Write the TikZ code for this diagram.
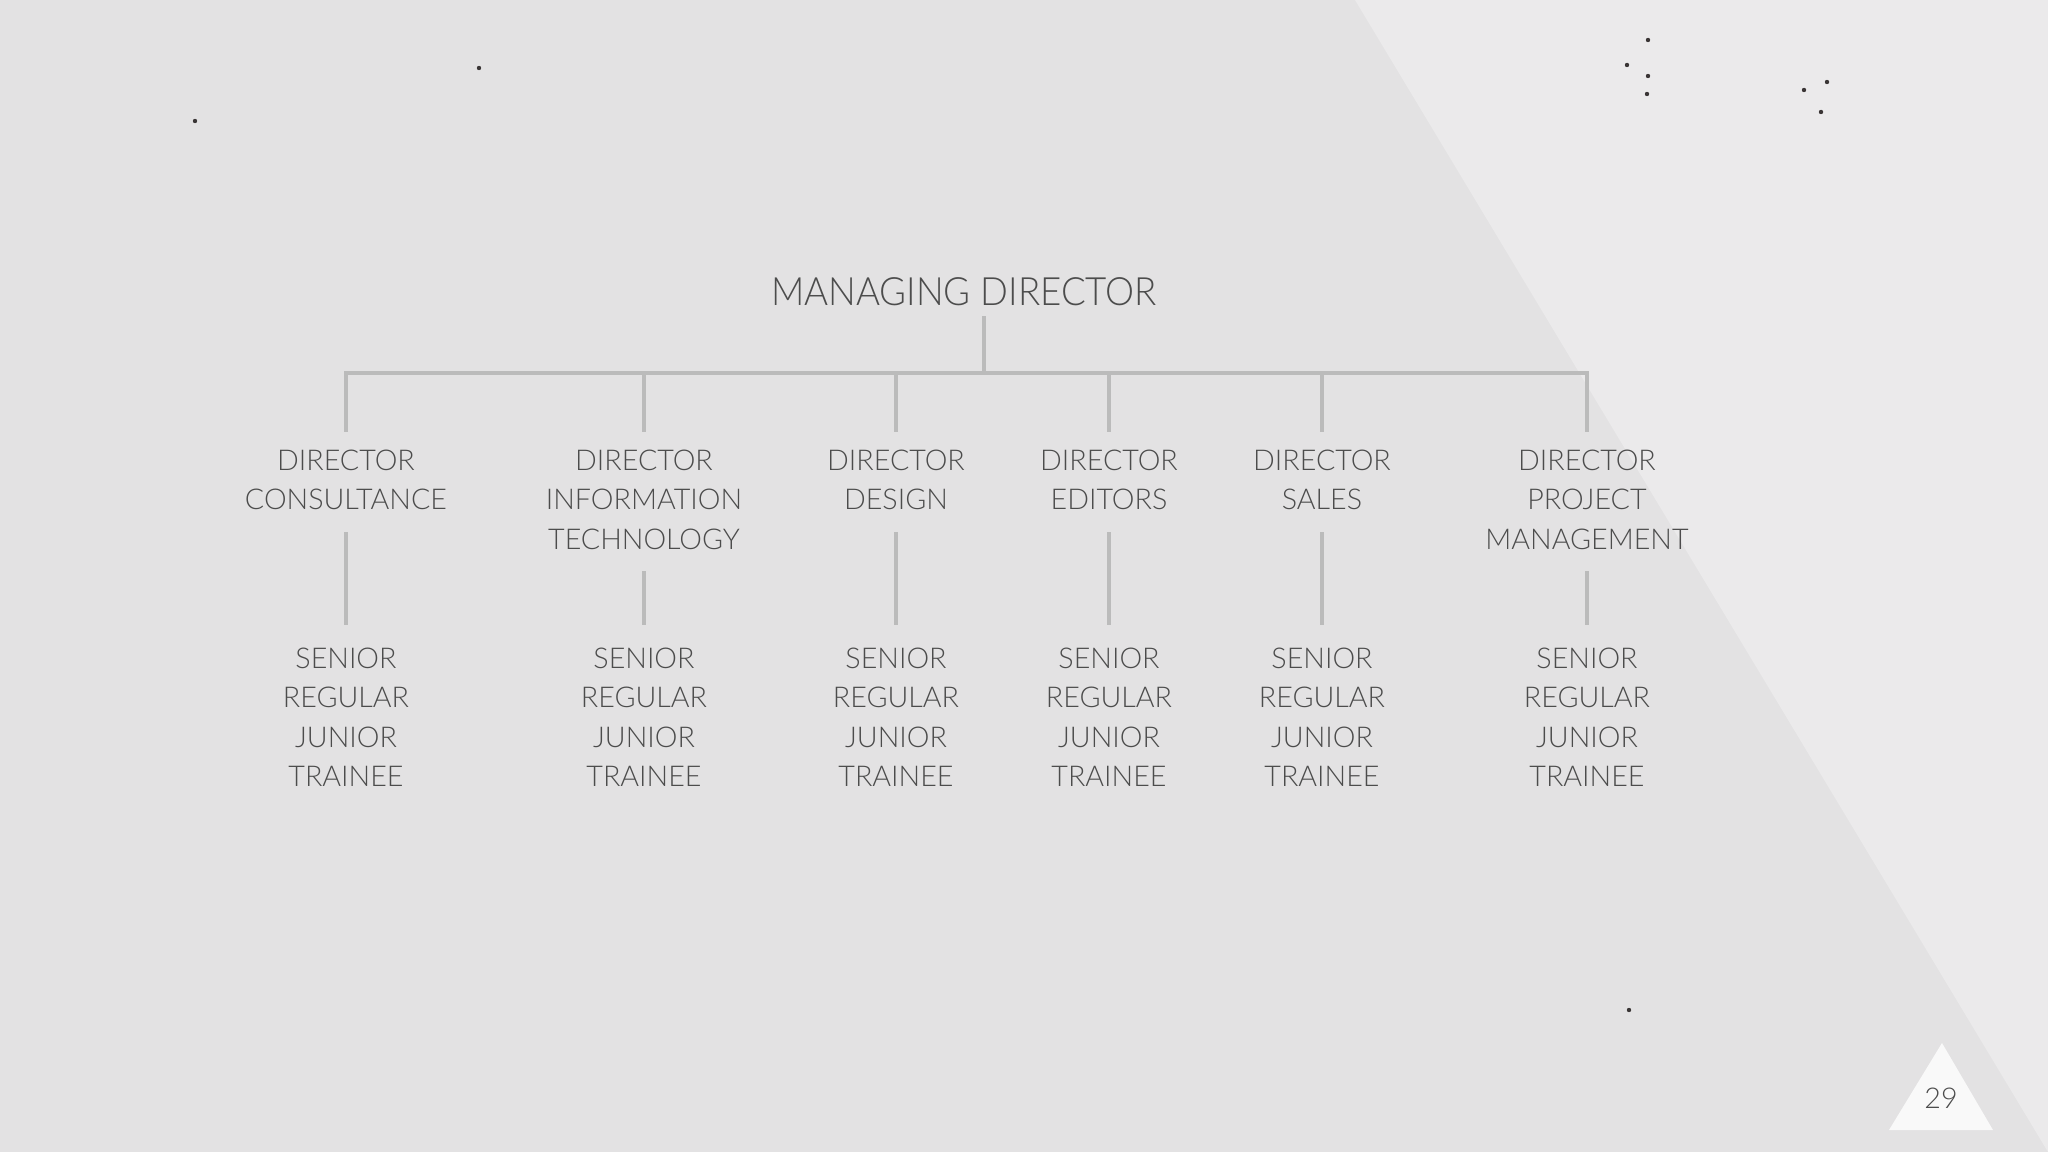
\documentclass[tikz,border=0pt]{standalone}
\usepackage{fontspec}
\setmainfont{Lato Light}
\newfontfamily\headfont[FakeStretch=0.94]{Lato Light}
\usetikzlibrary{calc}
\definecolor{paper}{HTML}{E3E2E3}
\definecolor{paperlight}{HTML}{EBEAEB}
\definecolor{linegray}{HTML}{BBBBBB}
\definecolor{ink}{HTML}{4C4C4C}
\definecolor{speck}{HTML}{3A3535}

\begin{document}
\begin{tikzpicture}
            \tikzset{connector/.style={draw=linegray, line width=0.9pt},
                     role/.style={text=ink, align=center, inner sep=0pt, outer sep=0pt, anchor=north,
                                  font=\fontsize{8.15}{11.2}\selectfont}}
            % paper and light wedge
            \fill[paper] (0, 0) rectangle (20.48, -11.52);
            \fill[paperlight] (13.55, 0) -- (20.48, 0) -- (20.48, -11.52) -- cycle;
            \useasboundingbox (0, 0) rectangle (20.48, -11.52);
            \foreach \p in {(4.79,-0.68), (1.95,-1.21), (16.48,-0.40), (16.27,-0.65), (16.48,-0.76),
                            (16.47,-0.94), (18.27,-0.82), (18.04,-0.90), (18.21,-1.12), (16.29,-10.10)} {
                \fill[speck] \p circle[radius=0.022];
            }
            % head
            \node[role, font=\headfont\fontsize{11.1}{13}\selectfont] (md) at (9.64, -2.78) {MANAGING DIRECTOR};
            \coordinate (bus) at (9.84, -3.73);
            \draw[connector, shorten <=0.1cm] (md.south -| bus) -- (bus);
            % directors and their levels
            \foreach \i/\x/\txt in {1/3.46/{DIRECTOR\\CONSULTANCE},
                                    2/6.44/{DIRECTOR\\INFORMATION\\TECHNOLOGY},
                                    3/8.96/{DIRECTOR\\DESIGN},
                                    4/11.09/{DIRECTOR\\EDITORS},
                                    5/13.22/{DIRECTOR\\SALES},
                                    6/15.87/{DIRECTOR\\PROJECT\\MANAGEMENT}} {
                \node[role] (d\i) at (\x, -4.50) {\txt};
                \node[role] (l\i) at (\x, -6.48) {SENIOR\\REGULAR\\JUNIOR\\TRAINEE};
                \draw[connector, shorten >=0.18cm] (bus) -| (d\i.north);
                \draw[connector, shorten <=0.22cm, shorten >=0.23cm] (d\i) -- (l\i);
            }
            % page number
            \fill[white!70!paperlight] (19.42, -10.43) -- (19.93, -11.30) -- (18.89, -11.30) -- cycle;
            \node[role, anchor=center] (page) at (19.41, -10.98) {29};
        \end{tikzpicture}
\end{document}
